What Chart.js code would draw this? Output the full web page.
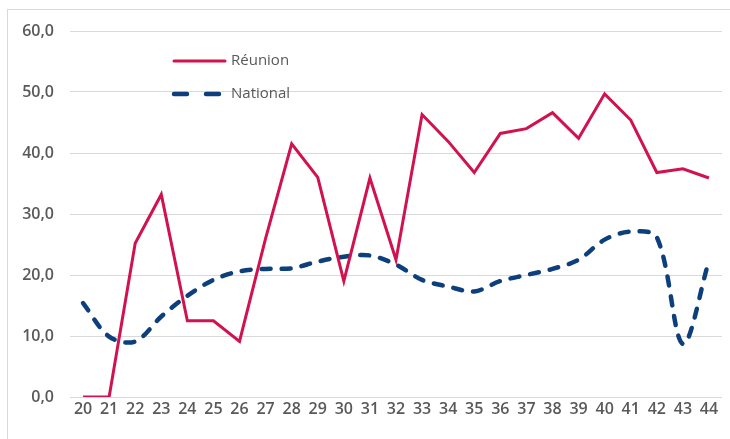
<!DOCTYPE html>
<html>
<head>
<meta charset="utf-8">
<script src="https://cdn.jsdelivr.net/npm/chart.js@4/dist/chart.umd.min.js"></script>
<style>
html,body{margin:0;padding:0;background:#fff;}
#wrap{position:relative;width:730px;height:439px;overflow:hidden;}
#frame{position:absolute;left:7px;top:9px;width:760px;height:460px;border:1px solid #d9d9d9;box-sizing:border-box;}
canvas{position:absolute;left:0;top:0;}
</style>
</head>
<body>
<div id="wrap"><div id="frame"></div><canvas id="c" width="730" height="439"></canvas></div>
<script>
const weeks = ['20','21','22','23','24','25','26','27','28','29','30','31','32','33','34','35','36','37','38','39','40','41','42','43','44'];
const reunion = [0,0,25.2,33.2,12.5,12.5,9.1,26,41.5,36,19,35.9,22.5,46.3,41.9,36.8,43.2,44,46.6,42.4,49.7,45.4,36.8,37.4,35.9];
const national = [15.4,9.9,9.1,13.2,16.6,19.2,20.6,21,21.1,22.2,23,23.2,21.7,19.2,18.1,17.3,19,20,21,22.5,25.8,27.1,26.2,8.7,22.3];
const yTicks = [0,10,20,30,40,50,60];

const legendPlugin = {
  id: 'insideLegend',
  afterDatasetsDraw(chart) {
    const ctx = chart.ctx;
    const items = [
      {ds: chart.data.datasets[0], y: 61},
      {ds: chart.data.datasets[1], y: 94}
    ];
    ctx.save();
    items.forEach(it => {
      ctx.beginPath();
      ctx.strokeStyle = it.ds.borderColor;
      ctx.lineWidth = it.ds.borderWidth;
      ctx.lineCap = 'round';
      ctx.setLineDash(it.ds.legendDash || []);
      ctx.moveTo(174, it.y);
      ctx.lineTo(225, it.y);
      ctx.stroke();
      ctx.setLineDash([]);
      ctx.fillStyle = '#595959';
      ctx.font = '15px "Open Sans"';
      ctx.textBaseline = 'middle';
      ctx.textAlign = 'left';
      ctx.fillText(it.ds.label, 231, it.y);
    });
    ctx.restore();
  }
};

new Chart(document.getElementById('c'), {
  type: 'line',
  data: {
    labels: weeks,
    datasets: [
      {label: 'Réunion', data: reunion, borderColor: '#D1124F', borderWidth: 3, pointRadius: 0, tension: 0, fill: false, borderJoinStyle: 'miter'},
      {label: 'National', data: national, borderColor: '#0D3F7C', borderWidth: 4.5, pointRadius: 0, tension: 0.33, fill: false, borderDash: [9, 11], borderCapStyle: 'round', legendDash: [13, 19]}
    ]
  },
  options: {
    responsive: false,
    animation: false,
    devicePixelRatio: 1,
    layout: {padding: {left: 0, top: 31, right: 8, bottom: 0}},
    plugins: {legend: {display: false}, tooltip: {enabled: false}},
    scales: {
      x: {
        offset: true,
        grid: {display: false, drawTicks: false},
        border: {display: false},
        ticks: {color: '#595959', font: {family: 'Open Sans', size: 16, weight: '600'}, padding: 3, maxRotation: 0, autoSkip: false},
        afterFit(s) { s.height = 42; }
      },
      y: {
        min: 0, max: 60,
        afterBuildTicks(s) { s.ticks = yTicks.map(v => ({value: v})); },
        grid: {color: '#d9d9d9', lineWidth: 1, drawTicks: false},
        border: {display: false},
        ticks: {color: '#595959', font: {family: 'Open Sans', size: 16, weight: '600'}, padding: 16,
          callback: v => v.toFixed(1).replace('.', ',')},
        afterFit(s) { s.width = 70; }
      }
    }
  },
  plugins: [legendPlugin]
});
</script>
</body>
</html>
